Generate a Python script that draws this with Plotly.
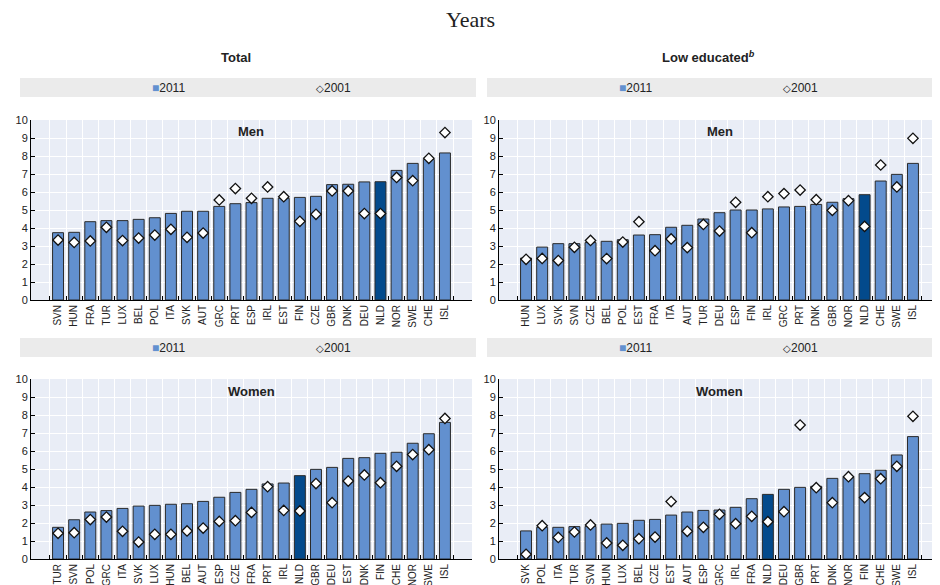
import plotly.graph_objects as go

# ---------------- data ----------------
men_total_cat = ["SVN","HUN","FRA","TUR","LUX","BEL","POL","ITA","SVK","AUT","GRC","PRT","ESP","IRL","EST","FIN","CZE","GBR","DNK","DEU","NLD","NOR","SWE","CHE","ISL"]
men_total_2011 = [3.74,3.76,4.35,4.41,4.41,4.48,4.57,4.81,4.93,4.93,5.20,5.35,5.41,5.65,5.65,5.70,5.76,6.41,6.43,6.56,6.57,7.20,7.59,7.81,8.17]
men_total_2001 = [3.33,3.20,3.28,4.04,3.30,3.44,3.61,3.93,3.48,3.72,5.56,6.19,5.65,6.28,5.74,4.37,4.76,6.06,6.06,4.80,4.80,6.81,6.63,7.87,9.30]

men_low_cat = ["HUN","LUX","SVK","SVN","CZE","BEL","POL","EST","FRA","ITA","AUT","TUR","DEU","ESP","FIN","IRL","GRC","PRT","DNK","GBR","NOR","NLD","CHE","SWE","ISL"]
men_low_2011 = [2.33,2.94,3.13,3.13,3.19,3.26,3.35,3.61,3.63,4.04,4.15,4.50,4.85,5.00,5.00,5.06,5.17,5.20,5.31,5.43,5.63,5.85,6.61,6.98,7.59]
men_low_2001 = [2.26,2.31,2.19,2.93,3.31,2.30,3.22,4.35,2.74,3.39,2.91,4.20,3.83,5.43,3.74,5.74,5.91,6.11,5.57,4.98,5.52,4.09,7.50,6.28,8.98]

women_total_cat = ["TUR","SVN","POL","GRC","ITA","SVK","LUX","HUN","BEL","AUT","ESP","CZE","FRA","PRT","IRL","NLD","GBR","DEU","EST","DNK","FIN","CHE","NOR","SWE","ISL"]
women_total_2011 = [1.76,2.18,2.61,2.69,2.81,2.94,2.98,3.04,3.07,3.20,3.43,3.70,3.87,4.17,4.22,4.63,4.98,5.09,5.59,5.63,5.87,5.93,6.43,6.96,7.59]
women_total_2001 = [1.43,1.46,2.19,2.33,1.54,0.94,1.37,1.37,1.56,1.72,2.09,2.13,2.59,4.02,2.70,2.67,4.19,3.13,4.33,4.67,4.24,5.15,5.80,6.07,7.81]

women_low_cat = ["SVK","POL","ITA","TUR","SVN","HUN","LUX","BEL","CZE","EST","AUT","ESP","GRC","IRL","FRA","NLD","DEU","GBR","PRT","DNK","NOR","FIN","CHE","SWE","ISL"]
women_low_2011 = [1.56,1.76,1.76,1.80,1.81,1.94,1.98,2.15,2.20,2.44,2.61,2.70,2.72,2.87,3.35,3.59,3.87,3.98,4.04,4.48,4.54,4.74,4.93,5.78,6.80]
women_low_2001 = [0.26,1.85,1.20,1.50,1.89,0.89,0.76,1.13,1.22,3.19,1.54,1.76,2.48,1.96,2.37,2.07,2.63,7.44,3.96,3.13,4.57,3.41,4.46,5.15,7.93]

series_names = ["2011", "2001"]
highlight = "NLD"

# ---------------- style ----------------
FONT = "Arial, Liberation Sans, sans-serif"
BAR = "#6290cf"
BAR_HI = "#034a8c"
EDGE = "#2a2a2a"
PLOT_BG = "#e9edf6"
BAND = "#ebebeb"
TXT = "#222222"
W, H = 940, 585
OFF = 8  # page body margin

def px_x(x):
    return (x - OFF) / W

def px_y(y):
    return 1 - (y - OFF) / H

col_dom = [[px_x(31), px_x(472)], [px_x(499), px_x(940)]]
row_dom = [[px_y(300), px_y(120)], [px_y(559), px_y(379)]]

panels = [
    (men_total_cat, men_total_2011, men_total_2001, 0, 0, "Men"),
    (men_low_cat, men_low_2011, men_low_2001, 0, 1, "Men"),
    (women_total_cat, women_total_2011, women_total_2001, 1, 0, "Women"),
    (women_low_cat, women_low_2011, women_low_2001, 1, 1, "Women"),
]

fig = go.Figure()
layout = dict()
annotations = []
shapes = []

for i, (cats, v11, v01, r, c, label) in enumerate(panels):
    n = i + 1
    xa = "x" if n == 1 else f"x{n}"
    ya = "y" if n == 1 else f"y{n}"
    colors = [BAR_HI if k == highlight else BAR for k in cats]
    fig.add_trace(go.Bar(
        x=cats, y=v11, name=series_names[0], xaxis=xa, yaxis=ya,
        marker=dict(color=colors, line=dict(color=EDGE, width=1)),
        width=0.68, showlegend=False,
    ))
    fig.add_trace(go.Scatter(
        x=cats, y=v01, name=series_names[1], mode="markers", xaxis=xa, yaxis=ya,
        marker=dict(symbol="diamond", size=8, color="white", line=dict(color="#111111", width=1.3)),
        showlegend=False,
    ))
    xk = "xaxis" if n == 1 else f"xaxis{n}"
    yk = "yaxis" if n == 1 else f"yaxis{n}"
    layout[xk] = dict(
        domain=col_dom[c], anchor=ya, type="category", tickson="boundaries",
        showgrid=True, gridcolor="white", gridwidth=1,
        showline=True, linecolor="black", linewidth=1,
        ticks="inside", ticklen=4, tickcolor="black",
        tickangle=-90, tickfont=dict(family=FONT, size=10, color=TXT),
        fixedrange=True, automargin=False,
    )
    layout[yk] = dict(
        domain=row_dom[r], anchor=xa, range=[0, 10], dtick=1,
        showgrid=True, gridcolor="white", gridwidth=1, zeroline=False,
        showline=True, linecolor="black", linewidth=1,
        ticks="inside", ticklen=4, tickcolor="black",
        tickfont=dict(family=FONT, size=11, color=TXT),
        fixedrange=True, automargin=False,
    )
    # panel sub-label (Men / Women)
    annotations.append(dict(
        text=f"<b>{label}</b>", x=(col_dom[c][0] + col_dom[c][1]) / 2,
        y=px_y(131 if r == 0 else 391), xref="paper", yref="paper",
        showarrow=False, font=dict(family=FONT, size=13, color=TXT),
        xanchor="center", yanchor="middle",
    ))
    # legend band with legend entries
    band_x = [20, 476] if c == 0 else [487, 940]
    band_y = [78, 97] if r == 0 else [338, 357]
    shapes.append(dict(
        type="rect", xref="paper", yref="paper",
        x0=px_x(band_x[0]), x1=px_x(band_x[1]), y0=px_y(band_y[1]), y1=px_y(band_y[0]),
        fillcolor=BAND, line=dict(width=0), layer="below",
    ))
    ly = px_y((band_y[0] + band_y[1]) / 2 + 0.5)
    lx0 = 150 if c == 0 else 617
    annotations.append(dict(
        text=f'<span style="color:{BAR}">■</span>{series_names[0]}',
        x=px_x(lx0), y=ly, xref="paper", yref="paper", showarrow=False,
        xanchor="left", yanchor="middle", font=dict(family=FONT, size=12, color=TXT),
    ))
    annotations.append(dict(
        text=f'<span style="font-size:10px">◇</span>{series_names[1]}',
        x=px_x(lx0 + 164), y=ly, xref="paper", yref="paper", showarrow=False,
        xanchor="left", yanchor="middle", font=dict(family=FONT, size=12, color=TXT),
    ))

# column titles
annotations.append(dict(text="<b>Total</b>", x=px_x(236), y=px_y(57), xref="paper", yref="paper",
                        showarrow=False, font=dict(family=FONT, size=13, color=TXT),
                        xanchor="center", yanchor="middle"))
annotations.append(dict(text="<b>Low educated<sup><i>b</i></sup></b>", x=px_x(708), y=px_y(57),
                        xref="paper", yref="paper", showarrow=False,
                        font=dict(family=FONT, size=13, color=TXT),
                        xanchor="center", yanchor="middle"))
# main title
annotations.append(dict(text="Years", x=px_x(470), y=px_y(19), xref="paper", yref="paper",
                        showarrow=False, xanchor="center", yanchor="middle",
                        font=dict(family="Liberation Serif, Times New Roman, serif", size=22, color=TXT)))

fig.update_layout(
    **layout,
    width=W, height=H,
    margin=dict(l=0, r=0, t=0, b=0, autoexpand=False),
    showlegend=False,
    paper_bgcolor="white", plot_bgcolor=PLOT_BG,
    annotations=annotations, shapes=shapes,
)

fig.write_html("out.html")
